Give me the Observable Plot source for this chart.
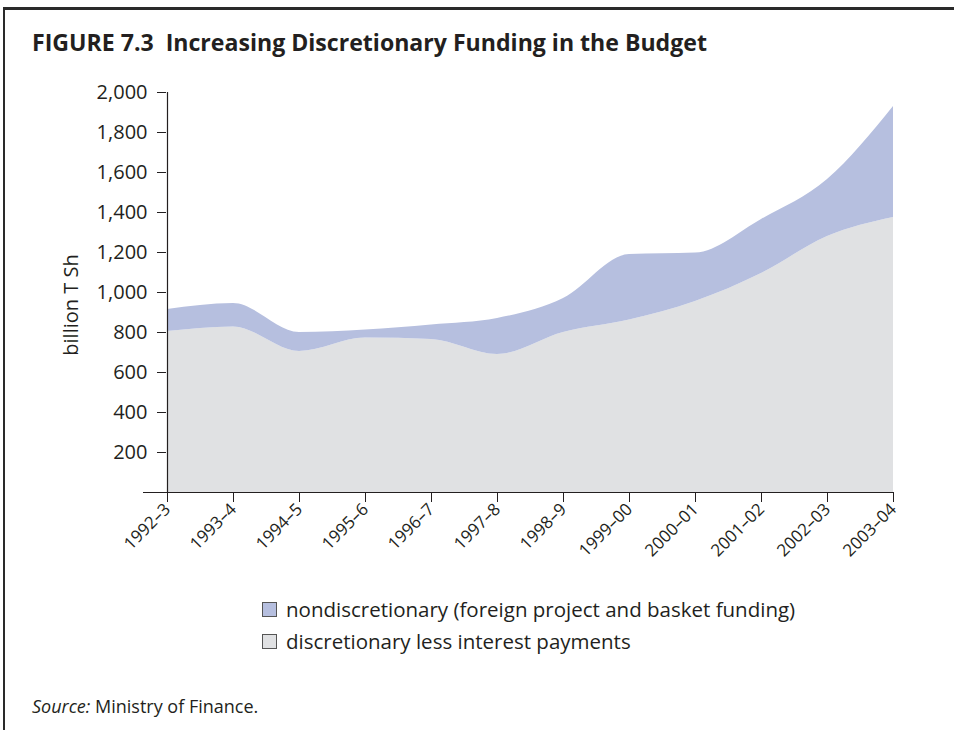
<!DOCTYPE html>
<html><head><meta charset="utf-8">
<script src="https://cdn.jsdelivr.net/npm/d3@7"></script>
<script src="https://cdn.jsdelivr.net/npm/@observablehq/plot@0.6"></script>
<style>
body{margin:0;background:#fff;width:954px;height:730px;position:relative;overflow:hidden;font-family:"Open Sans",sans-serif;color:#231f20}
#frameTop{position:absolute;left:3px;top:7px;width:951px;height:3px;background:#2a2a2a}
#frameLeft{position:absolute;left:3px;top:7px;width:2px;height:723px;background:#2a2a2a}
#title{position:absolute;left:32px;top:26px;font-size:23.1px;font-weight:bold;white-space:nowrap}
#chart{position:absolute;left:0;top:0}
#ylabel{position:absolute;left:70px;top:305px;transform:translate(-50%,-50%) rotate(-90deg);font-size:20px;white-space:nowrap}
#legend{position:absolute;left:262px;top:593px;font-size:20.5px;line-height:32px}
#legend .sw{display:inline-block;width:13px;height:13px;border:1px solid #555;margin-right:9px;vertical-align:0}
#source{position:absolute;left:32px;top:694px;font-size:18px}
</style>
</head><body>
<div id="frameTop"></div><div id="frameLeft"></div>
<div id="title">FIGURE 7.3 &nbsp;Increasing Discretionary Funding in the Budget</div>
<div id="chart"></div>
<div id="ylabel">billion T Sh</div>
<div id="legend"></div>
<div id="source"><i>Source:</i> Ministry of Finance.</div>
<script>
const years = ["1992–3","1993–4","1994–5","1995–6","1996–7","1997–8","1998–9","1999–00","2000–01","2001–02","2002–03","2003–04"];
const discretionary = [805, 828, 705, 772, 765, 690, 800, 862, 955, 1095, 1280, 1375];
const nondiscretionary = [110, 117, 95, 40, 73, 180, 170, 328, 242, 270, 285, 555];
const seriesNames = ["discretionary less interest payments", "nondiscretionary (foreign project and basket funding)"];
const seriesColors = ["#e0e1e3", "#b6bfdf"];
const yTicks = [200, 400, 600, 800, 1000, 1200, 1400, 1600, 1800, 2000];

const rows = [];
years.forEach((y, i) => rows.push({year: y, series: seriesNames[0], value: discretionary[i]}));
years.forEach((y, i) => rows.push({year: y, series: seriesNames[1], value: nondiscretionary[i]}));

const ink = "#231f20";
const chart = Plot.plot({
  width: 954, height: 590,
  marginLeft: 166, marginRight: 60, marginTop: 92, marginBottom: 98,
  style: {fontFamily: "'Open Sans', sans-serif", fontSize: "18px", color: ink, background: "transparent", overflow: "visible"},
  x: {type: "point", domain: years, padding: 0, label: null},
  y: {domain: [0, 2000], label: null},
  color: {domain: seriesNames, range: seriesColors},
  marks: [
    Plot.areaY(rows, {x: "year", y: "value", z: "series", fill: "series", curve: "monotone-x"}),
    Plot.ruleX([years[0]], {y1: 0, y2: 2000, stroke: ink, strokeWidth: 1.2}),
    Plot.ruleY([0], {insetLeft: -23, stroke: ink, strokeWidth: 1.2}),
    Plot.axisY({ticks: yTicks, tickSize: 9, tickPadding: 10, tickFormat: d3.format(","), fontSize: 20, label: null, stroke: ink}),
    Plot.axisX({tickSize: 10, tickRotate: -45, tickPadding: 4, fontSize: 17, label: null, stroke: ink})
  ]
});
document.getElementById("chart").appendChild(chart);

const legend = document.getElementById("legend");
[1, 0].forEach(i => {
  const row = document.createElement("div");
  const sw = document.createElement("span");
  sw.className = "sw";
  sw.style.background = seriesColors[i];
  row.appendChild(sw);
  row.appendChild(document.createTextNode(seriesNames[i]));
  legend.appendChild(row);
});
</script>
</body></html>
